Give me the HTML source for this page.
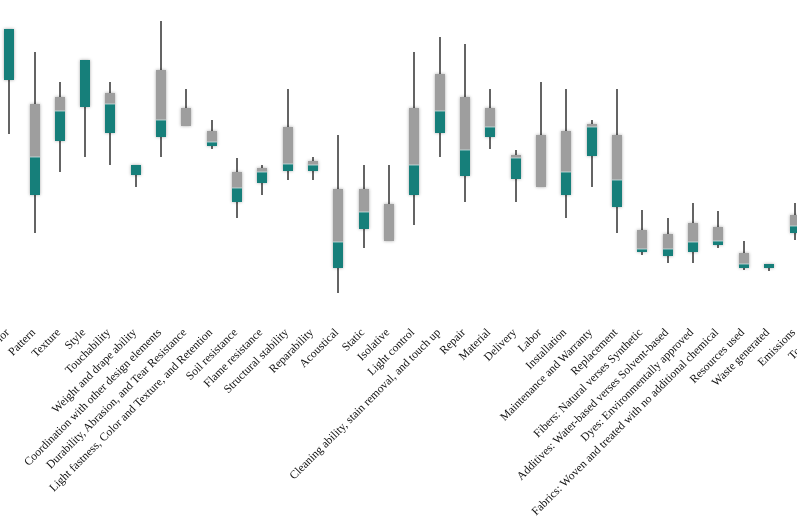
<!DOCTYPE html>
<html><head><meta charset="utf-8"><style>html,body{margin:0;padding:0;background:#fff}svg{display:block}</style></head>
<body>
<svg width="797" height="532" viewBox="0 0 797 532" xmlns="http://www.w3.org/2000/svg">
<defs><filter id="s" x="-1" y="-1" width="3" height="3"><feGaussianBlur in="SourceAlpha" stdDeviation="1.5"/><feComponentTransfer><feFuncA type="linear" slope="0.35"/></feComponentTransfer><feMerge><feMergeNode/><feMergeNode in="SourceGraphic"/></feMerge></filter></defs>
<g id="c"></g>
<g id="l" font-family="Liberation Serif, serif" font-size="11.6" fill="#111"></g>
<script>
var d=[[9,29,134,29,29,80],[35,52,233,104,157,195],[60,82,172,97,111,141],[85,60,157,60,60,107],[110,82,165,93,104,133],[136,165,187,165,165,175],[161,21,157,70,120,137],[186,89,126,108,126,126],[212,120,149,131,142,146],[237,158,218,172,188,202],[262,165,195,168,172,183],[288,89,180,127,164,171],[313,157,180,161,165,171],[338,135,293,189,242,268],[364,165,248,189,212,229],[389,165,240,204,241,241],[414,52,225,108,165,195],[440,37,157,74,111,133],[465,44,202,97,150,176],[490,89,149,108,127,137],[516,150,202,155,158,179],[541,82,187,135,187,187],[566,89,218,131,172,195],[592,120,187,124,127,156],[617,89,233,135,180,207],[642,210,255,230,249,252],[668,218,263,234,249,256],[693,203,263,223,242,252],[718,211,248,227,241,245],[744,241,270,253,264,268],[769,264,271,264,264,268],[795,203,240,215,226,233]];
var L=["Color","Pattern","Texture","Style","Touchability","Weight and drape ability","Coordination with other design elements","Durability, Abrasion, and Tear Resistance","Light fastness, Color and Texture, and Retention","Soil resistance","Flame resistance","Structural stability","Reparability","Acoustical","Static","Isolative","Light control","Cleaning ability, stain removal, and touch up","Repair","Material","Delivery","Labor","Installation","Maintenance and Warranty","Replacement","Fibers: Natural verses Synthetic","Additives: Water-based verses Solvent-based","Dyes: Environmentally approved","Fabrics: Woven and treated with no additional chemical","Resources used","Waste generated","Emissions","Toxicity"];
var ns="http://www.w3.org/2000/svg",c=document.getElementById("c"),l=document.getElementById("l");
function el(t,a,p){var e=document.createElementNS(ns,t);for(var k in a)e.setAttribute(k,a[k]);p.appendChild(e);return e;}
d.forEach(function(r){var x=r[0];
el("line",{x1:x,x2:x,y1:r[1],y2:r[2],stroke:"#111","stroke-width":1.3},c);
var g=el("g",{filter:"url(#s)"},c);
if(r[4]>r[3])el("rect",{x:x-5,y:r[3],width:10,height:r[4]-r[3],fill:"#9e9e9e"},g);
if(r[5]>r[4])el("rect",{x:x-5,y:r[4],width:10,height:r[5]-r[4],fill:"#137f7a"},g);
if(r[4]>r[3]&&r[5]>r[4])el("line",{x1:x-5,x2:x+5,y1:r[4],y2:r[4],stroke:"#cfe3e2","stroke-width":0.8},g);
});
L.forEach(function(s,i){var x=i<32?d[i][0]+1:820,y=333;
var t=el("text",{x:x,y:y,"text-anchor":"end",transform:"rotate(-45 "+x+" "+y+")"},l);t.textContent=s;});
</script>
</svg>
</body></html>
